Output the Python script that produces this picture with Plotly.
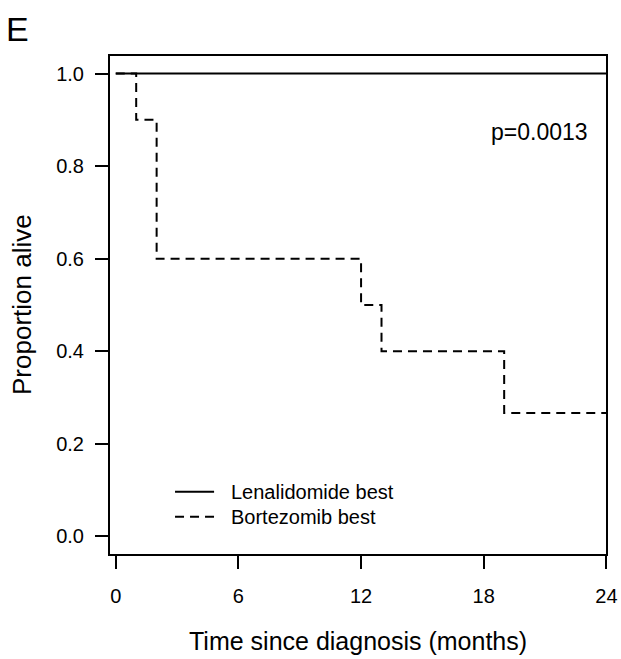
import plotly.graph_objects as go

# Kaplan-Meier survival estimates
len_time = [0, 24]
len_surv = [1.0, 1.0]
bor_time = [0, 1, 2, 12, 13, 19, 24]
bor_surv = [1.0, 0.9, 0.6, 0.5, 0.4, 0.2667, 0.2667]

x_ticks = [0, 6, 12, 18, 24]
y_ticks = [0.0, 0.2, 0.4, 0.6, 0.8, 1.0]
y_tick_text = ["0.0", "0.2", "0.4", "0.6", "0.8", "1.0"]

group_names = ["Lenalidomide best", "Bortezomib best"]
p_text = "p=0.0013"

FONT = "Liberation Sans, Arial, sans-serif"
W, H = 621, 659
L, R, T, B = 109, 14, 55, 104
PW, PH = W - L - R, H - T - B


def px(x):
    return (x - L) / PW


def py(y):
    return (H - B - y) / PH


fig = go.Figure()
fig.add_trace(go.Scatter(
    x=bor_time, y=bor_surv, mode="lines", line_shape="hv", name=group_names[1],
    line=dict(color="black", width=2, dash="9px,6px"), showlegend=False))
fig.add_trace(go.Scatter(
    x=len_time, y=len_surv, mode="lines", line_shape="hv", name=group_names[0],
    line=dict(color="black", width=2), showlegend=False))

# legend drawn in data units, bottom-left of the panel
leg_x0, leg_x1, leg_tx = 2.9, 4.81, 5.56
leg_y = [0.0964, 0.0425]
leg_dash = ["solid", "9px,6px"]
for name, yv, dsh in zip(group_names, leg_y, leg_dash):
    fig.add_shape(type="line", x0=leg_x0, x1=leg_x1, y0=yv, y1=yv,
                  line=dict(color="black", width=2, dash=dsh))
    fig.add_annotation(x=leg_tx, y=yv, text=name, showarrow=False,
                       xanchor="left", yanchor="middle",
                       font=dict(family=FONT, size=20, color="black"))

fig.add_annotation(x=20.73, y=0.873, text=p_text, showarrow=False,
                   xanchor="center", yanchor="middle",
                   font=dict(family=FONT, size=23, color="black"))

# plot box
fig.add_shape(type="rect", xref="paper", yref="paper", x0=0, x1=1, y0=0, y1=1,
              line=dict(color="black", width=2))

# axis titles and panel letter
fig.add_annotation(xref="paper", yref="paper", x=0.5, y=py(641),
                   text="Time since diagnosis (months)", showarrow=False,
                   xanchor="center", yanchor="middle",
                   font=dict(family=FONT, size=25, color="black"))
fig.add_annotation(xref="paper", yref="paper", x=px(22), y=0.5,
                   text="Proportion alive", showarrow=False, textangle=-90,
                   xanchor="center", yanchor="middle",
                   font=dict(family=FONT, size=26, color="black"))
fig.add_annotation(xref="paper", yref="paper", x=px(4), y=py(29),
                   text="E", showarrow=False, xanchor="left", yanchor="middle",
                   font=dict(family=FONT, size=34, color="black"))

fig.update_xaxes(range=[-0.33, 24.03], tickvals=x_ticks, ticks="outside",
                 ticklen=13, tickwidth=2, tickcolor="black", showgrid=False,
                 zeroline=False, showline=False, automargin=False,
                 tickfont=dict(family=FONT, size=20, color="black"),
                 ticklabelstandoff=10)
fig.update_yaxes(range=[-0.04, 1.04], tickvals=y_ticks, ticktext=y_tick_text,
                 ticks="outside", ticklen=13, tickwidth=2, tickcolor="black",
                 showgrid=False, zeroline=False, showline=False, automargin=False,
                 tickfont=dict(family=FONT, size=20, color="black"),
                 ticklabelstandoff=7)

fig.update_layout(width=W, height=H, margin=dict(l=L, r=R, t=T, b=B),
                  plot_bgcolor="white", paper_bgcolor="white", showlegend=False)

fig.write_html("out.html")
